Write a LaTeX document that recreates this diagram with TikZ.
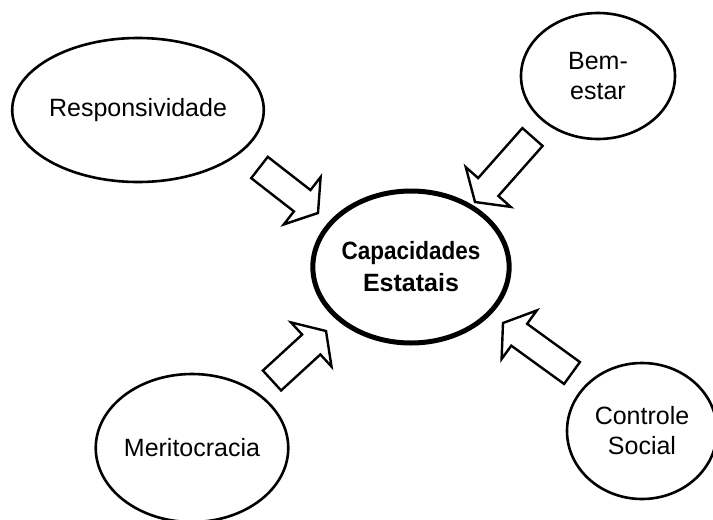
\documentclass[tikz,border=0pt]{standalone}
\usepackage{fontspec}
\setmainfont{Liberation Sans}
\usetikzlibrary{shapes.geometric,calc}
\tikzset{
  bubble/.style={draw=black, ellipse, line width=2.6pt, inner sep=0pt, align=center,
    font=\fontsize{25}{30}\selectfont},
  core/.style={bubble, line width=5pt, font=\fontsize{25}{32}\selectfont\bfseries},
  fatarrow/.style={draw=black, line width=2.4pt, line join=miter,
    to path={let \p2=($(\tikztotarget)!20pt!(\tikztostart)$) in
      ($(\tikztostart)!13.5pt!90:(\tikztotarget)$)
      -- ($(\p2)!13.5pt!90:(\tikztotarget)$)
      -- ($(\p2)!30pt!90:(\tikztotarget)$)
      -- (\tikztotarget)
      -- ($(\p2)!30pt!-90:(\tikztotarget)$)
      -- ($(\p2)!13.5pt!-90:(\tikztotarget)$)
      -- ($(\tikztostart)!13.5pt!-90:(\tikztotarget)$) -- cycle}}
}
\begin{document}
\begin{tikzpicture}[x=1pt,y=-1pt]
\useasboundingbox (0,0) rectangle (713,520);
\node[bubble, minimum width=250, minimum height=144] (resp) at (138,110) {Responsividade};
\node[bubble, minimum width=154, minimum height=126] (bem) at (598,76) {Bem-\\estar};
\node[core, minimum width=194, minimum height=152] (cap) at (411,267) {\scalebox{0.9}[1]{Capacidades}\\Estatais};
\node[bubble, minimum width=192, minimum height=148] (merit) at (192,448) {Meritocracia};
\node[bubble, minimum width=150, minimum height=136] (ctrl) at (642,431) {Controle\\Social};
\coordinate (resp-out) at (259.5,167.5);
\coordinate (resp-in) at (318,213);
\coordinate (bem-out) at (532.5,137);
\coordinate (bem-in) at (475,202);
\coordinate (merit-out) at (272,380.5);
\coordinate (merit-in) at (326,331);
\coordinate (ctrl-out) at (572,373);
\coordinate (ctrl-in) at (503,323);
\draw[fatarrow] (resp-out) to (resp-in);
\draw[fatarrow] (bem-out) to (bem-in);
\draw[fatarrow] (merit-out) to (merit-in);
\draw[fatarrow] (ctrl-out) to (ctrl-in);
\end{tikzpicture}
\end{document}
